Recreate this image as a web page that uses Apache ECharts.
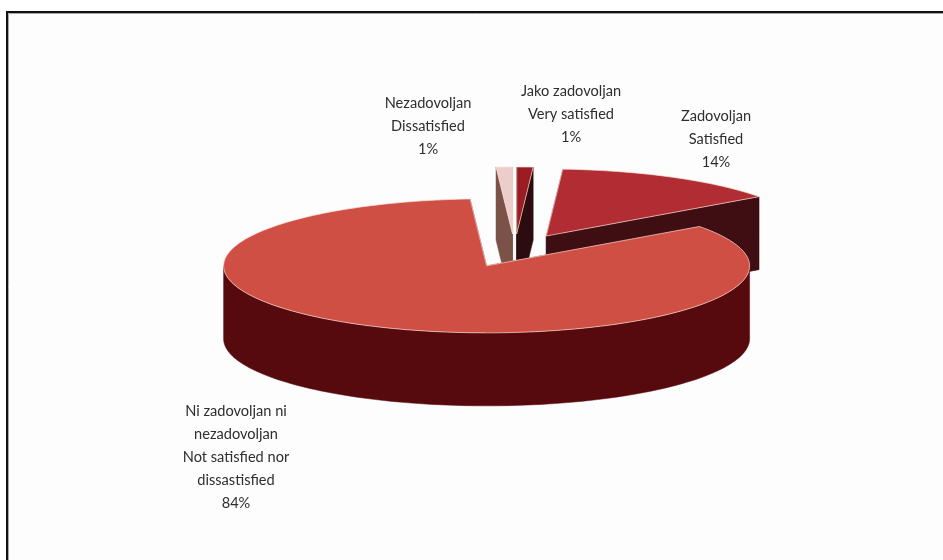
<!DOCTYPE html>
<html>
<head>
<meta charset="utf-8">
<style>html,body{margin:0;padding:0;background:#fff}#c{width:943px;height:560px}</style>
<script src="https://cdn.jsdelivr.net/npm/echarts@6/dist/echarts.min.js"></script>
</head>
<body>
<div id="c"></div>
<script>
const categories = ['Very satisfied', 'Satisfied', 'Not satisfied nor dissatisfied', 'Dissatisfied'];
const values = [1, 14, 84, 1];
const labelLines = [
  ['Jako zadovoljan', 'Very satisfied', '1%'],
  ['Zadovoljan', 'Satisfied', '14%'],
  ['Ni zadovoljan ni', 'nezadovoljan', 'Not satisfied nor', 'dissastisfied', '84%'],
  ['Nezadovoljan', 'Dissatisfied', '1%']
];
const topColors = ['#9b1c22', '#b22c33', '#cf4f45', '#eccdc9'];
const sideColors = ['#2c0c0e', '#3f0e12', '#560a0e', '#7a5248'];
const labelCenters = [[571, 91], [716, 116], [236, 411], [428, 103]];

const CX = 514.6, CY = 250.7, RX = 263, RY = 67, DEPTH = 73, EXPLODE = 0.25, LINE_H = 23;
const EDGE = 'rgba(255,225,215,0.75)';
const total = values.reduce((a, b) => a + b, 0);

function pt(cx, cy, deg, dy) {
  const a = deg * Math.PI / 180;
  return [cx + RX * Math.sin(a), cy - RY * Math.cos(a) + (dy || 0)];
}
function arcPts(cx, cy, from, to, dy) {
  const pts = [];
  const n = Math.max(2, Math.ceil(Math.abs(to - from) / 1.5));
  for (let i = 0; i <= n; i++) pts.push(pt(cx, cy, from + (to - from) * i / n, dy));
  return pts;
}
function renderItem(params, api) {
  const i = params.dataIndex;
  let before = 0;
  for (let k = 0; k < i; k++) before += values[k];
  const a0 = before / total * 360;
  const a1 = (before + api.value(0)) / total * 360;
  const mid = (a0 + a1) / 2 * Math.PI / 180;
  const cx = CX + Math.sin(mid) * EXPLODE * RX;
  const cy = CY - Math.cos(mid) * EXPLODE * RY;
  const z2 = Math.round(100 - Math.cos(mid) * 50);
  const side = { fill: sideColors[i], stroke: sideColors[i], lineWidth: 0.5 };
  const children = [];
  const wall = (deg) => {
    const o = pt(cx, cy, deg);
    children.push({ type: 'polygon', z2: z2,
      shape: { points: [[cx, cy], o, [o[0], o[1] + DEPTH], [cx, cy + DEPTH]] },
      style: side });
  };
  // cut walls
  wall(a0);
  wall(a1);
  // outer curved wall, front half only
  const f0 = Math.max(a0, 90), f1 = Math.min(a1, 270);
  if (f1 > f0) {
    const upper = arcPts(cx, cy, f0, f1, 0);
    const lower = arcPts(cx, cy, f1, f0, DEPTH);
    children.push({ type: 'polygon', z2: z2 + 1,
      shape: { points: upper.concat(lower) }, style: side });
  }
  // top face
  const top = [[cx, cy]].concat(arcPts(cx, cy, a0, a1, 0));
  children.push({ type: 'polygon', z2: z2 + 2,
    shape: { points: top },
    style: { fill: topColors[i], stroke: EDGE, lineWidth: 0.9 } });
  // label
  const c = labelCenters[i];
  labelLines[i].forEach((t, k) => {
    children.push({ type: 'text', z2: 300,
      style: { text: t, x: c[0], y: c[1] + k * LINE_H, fill: '#2e2e2e',
        font: '14.6px Lato', textAlign: 'center', textVerticalAlign: 'middle' } });
  });
  return { type: 'group', children: children };
}

const chart = echarts.init(document.getElementById('c'), null, { renderer: 'canvas' });
chart.setOption({
  animation: false,
  backgroundColor: '#ffffff',
  graphic: [
    { type: 'rect', z: 0, shape: { x: 7, y: 12, width: 1000, height: 1000 },
      style: { fill: '#fdfdfd', stroke: '#111111', lineWidth: 2 } },
    { type: 'rect', z: 0, shape: { x: 8.5, y: 13.5, width: 1000, height: 1000 },
      style: { fill: 'none', stroke: '#a8a8a8', lineWidth: 1 } }
  ],
  series: [{
    type: 'custom',
    coordinateSystem: 'none',
    z: 5,
    clip: false,
    renderItem: renderItem,
    data: categories.map((name, i) => ({ name: name, value: [values[i]] }))
  }]
});
</script>
</body>
</html>
